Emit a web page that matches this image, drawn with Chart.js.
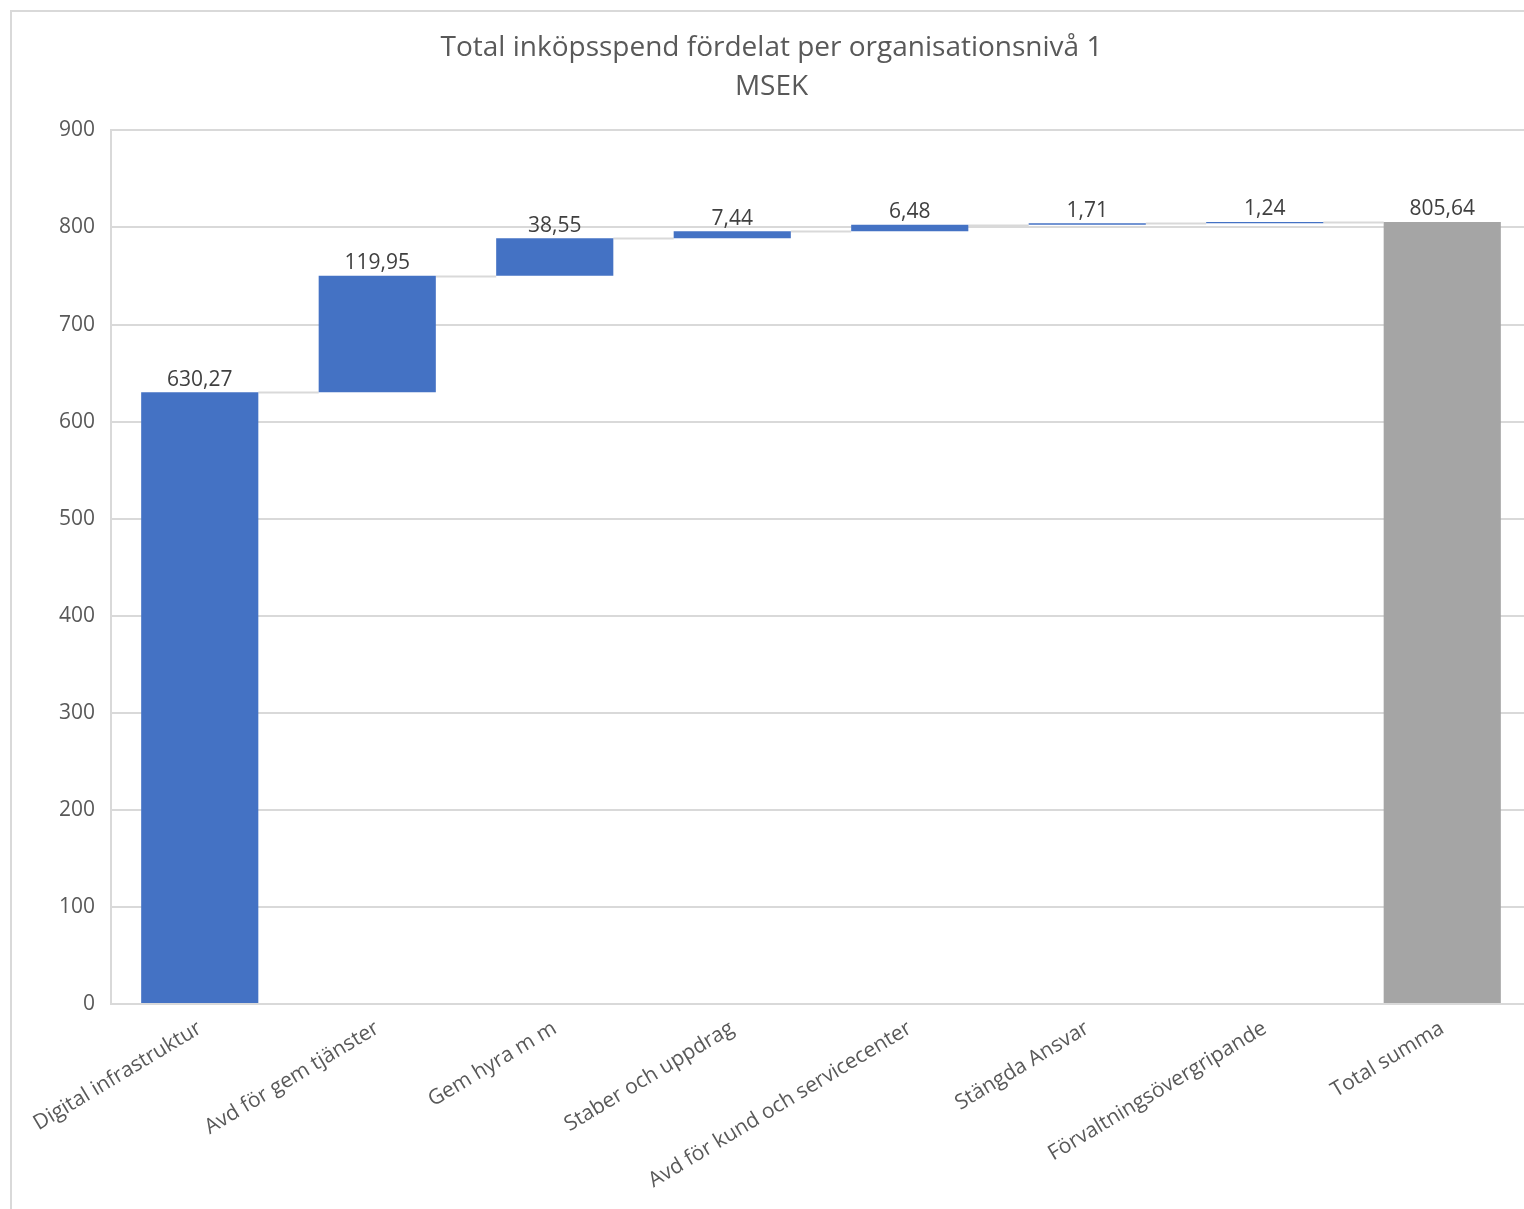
<!DOCTYPE html>
<html>
<head>
<meta charset="utf-8">
<script src="https://cdn.jsdelivr.net/npm/chart.js@4.4.1/dist/chart.umd.min.js"></script>
<style>
  html, body { margin:0; padding:0; background:#fff; overflow:hidden; }
  #frame { position:absolute; left:10px; top:10px; width:1536px; height:1199px; border-top:2px solid #d9d9d9; border-left:2px solid #d9d9d9; box-sizing:border-box; }
  #wrap { position:absolute; left:0; top:0; width:1534px; height:1197px; }
</style>
</head>
<body>
<div id="frame"><div id="wrap"><canvas id="wf"></canvas></div></div>
<script>
/* ===== DATA ===== */
const categories = ['Digital infrastruktur','Avd för gem tjänster','Gem hyra m m','Staber och uppdrag','Avd för kund och servicecenter','Stängda Ansvar','Förvaltningsövergripande','Total summa'];
const steps = [630.27, 119.95, 38.55, 7.44, 6.48, 1.71, 1.24];
const total = 805.64;
const yTicks = [0,100,200,300,400,500,600,700,800,900];

// floating bars [start, end] from running sums
const ranges = [];
let run = 0;
steps.forEach(v => { ranges.push([run, run + v]); run += v; });
ranges.push([0, total]);
const labels = steps.concat([total]);
const colors = steps.map(() => '#4472C4').concat(['#A5A5A5']);

const fmt = v => v.toFixed(2).replace('.', ',');
const FONT = '"Open Sans", "Liberation Sans", sans-serif';

/* connectors + value labels, positioned through the scales */
const waterfallDeco = {
  id: 'waterfallDeco',
  beforeDatasetsDraw(chart) {
    const {ctx, scales:{x, y}} = chart;
    const meta = chart.getDatasetMeta(0);
    ctx.save();
    ctx.strokeStyle = '#d9d9d9';
    ctx.lineWidth = 2;
    for (let i = 0; i < ranges.length - 1; i++) {
      const a = meta.data[i], b = meta.data[i+1];
      const yy = Math.round(y.getPixelForValue(ranges[i][1])) + 0.5;
      ctx.beginPath();
      ctx.moveTo(a.x + a.width/2, yy);
      ctx.lineTo(b.x - b.width/2, yy);
      ctx.stroke();
    }
    ctx.restore();
  },
  afterDatasetsDraw(chart) {
    const {ctx, scales:{y}} = chart;
    const meta = chart.getDatasetMeta(0);
    ctx.save();
    ctx.fillStyle = '#404040';
    ctx.font = '21px ' + FONT;
    ctx.textAlign = 'center';
    ctx.textBaseline = 'bottom';
    meta.data.forEach((bar, i) => {
      const top = y.getPixelForValue(ranges[i][1]);
      ctx.fillText(fmt(labels[i]), bar.x, top - 2);
    });
    ctx.restore();
  }
};

new Chart(document.getElementById('wf'), {
  type: 'bar',
  data: {
    labels: categories,
    datasets: [{ data: ranges, backgroundColor: colors, borderWidth: 0, categoryPercentage: 1, barPercentage: 0.66 }]
  },
  options: {
    responsive: true, maintainAspectRatio: false, animation: false,
    layout: { padding: { left: 0, right: 15, top: 0, bottom: 0 } },
    plugins: {
      legend: { display: false },
      tooltip: { enabled: false },
      title: {
        display: true,
        text: ['Total inköpsspend fördelat per organisationsnivå 1', 'MSEK'],
        color: '#595959',
        font: { family: FONT, size: 28, weight: 'normal', lineHeight: 1.4 },
        padding: { top: 16, bottom: 24 }
      }
    },
    scales: {
      x: {
        grid: { display: false },
        border: { display: true, color: '#d9d9d9', width: 2 },
        ticks: { color: '#595959', font: { family: FONT, size: 21 }, minRotation: 31, maxRotation: 31, padding: 4 },
        afterFit(s) { s.height = 205; }
      },
      y: {
        min: 0, max: 900,
        afterBuildTicks(s) { s.ticks = yTicks.map(v => ({ value: v })); },
        grid: { color: '#d9d9d9', lineWidth: 2, drawTicks: false },
        border: { display: true, color: '#d9d9d9', width: 2 },
        ticks: { color: '#595959', font: { family: FONT, size: 21 }, padding: 16 },
        afterFit(s) { s.width = 99; }
      }
    }
  },
  plugins: [waterfallDeco]
});
</script>
</body>
</html>
